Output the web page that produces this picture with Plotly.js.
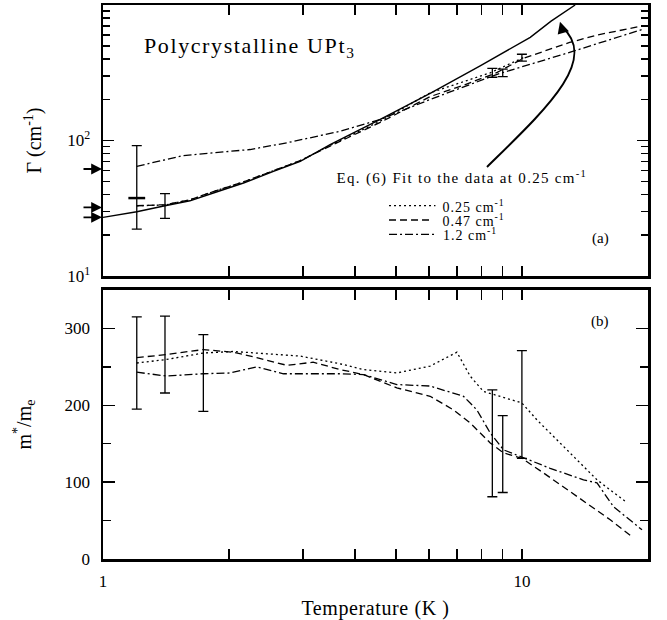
<!DOCTYPE html>
<html>
<head>
<meta charset="utf-8">
<script src="https://cdn.plot.ly/plotly-3.0.1.min.js"></script>
<style>
  html, body { margin: 0; padding: 0; background: #fff; }
  #chart { width: 667px; height: 620px; }
</style>
</head>
<body>
<div id="chart"></div>
<script>
// ---- (a) scattering rate Γ(T), cm^-1 ----
const T_fit  = [1.0, 1.204, 1.406, 1.613, 1.834, 2.165, 2.552, 2.957, 3.485, 4.59, 6.04, 7.95, 10.47, 11.74, 13.4];
const G_fit  = [27.1, 29.8, 33.0, 35.9, 41.0, 48.6, 59.2, 70.3, 93.3, 143, 223, 355, 577, 760, 1000];

const T_a025 = [1.204, 1.406, 1.613, 1.834, 2.165, 2.552, 2.957, 3.485, 4.59, 6.04, 7.24, 8.4, 10.1];
const G_a025 = [33.0, 33.4, 36.5, 42.0, 49.5, 60.0, 71.0, 92.0, 139, 225, 272, 316, 410];

const T_a047 = [1.204, 1.406, 1.613, 1.834, 2.165, 2.552, 2.957, 3.485, 4.59, 6.04, 7.24, 8.73, 10.1, 13.0, 15.1, 19.5];
const G_a047 = [33.0, 33.6, 36.5, 42.0, 49.5, 60.0, 71.0, 91.0, 136, 211, 255, 318, 405, 529, 600, 703];

const T_a12  = [1.204, 1.42, 1.555, 1.834, 2.245, 2.749, 3.68, 4.59, 6.04, 8.73, 13.0, 19.5];
const G_a12  = [64.5, 72.2, 77.4, 81.1, 85.8, 96.2, 117, 143, 201, 308, 447, 664];

// error bars in (a): lower / upper ends
const errT_a  = [1.204, 1.406, 8.5, 9.0, 10.0];
const errLo_a = [22.2, 26.6, 293, 296, 385];
const errHi_a = [91.8, 40.5, 341, 336, 433];
const capT_a  = [1.204];
const capG_a  = [37.6];

// zero-temperature values marked by arrows on the Γ axis
const arrowG = [61.6, 32.1, 27.1];

// ---- (b) effective mass m*/m_e ----
const T_b025 = [1.204, 1.419, 1.736, 2.047, 2.460, 2.954, 3.681, 4.184, 5.028, 6.039, 6.996, 7.523, 8.096, 10.0, 10.86, 12.57, 15.11, 17.65];
const M_b025 = [255, 259.6, 268, 270, 267, 264, 254, 246.5, 242, 251, 269, 238, 218, 203, 181, 146.5, 103, 75];

const T_b047 = [1.204, 1.419, 1.736, 2.047, 2.328, 2.747, 3.173, 3.681, 4.184, 5.028, 6.039, 6.866, 7.523, 8.403, 9.04, 10.0, 11.26, 13.53, 16.25, 18.31];
const M_b047 = [262, 266, 272.5, 269, 262, 252, 256, 246.5, 240, 222.6, 211.7, 194, 177, 151, 138, 131, 112, 81, 51, 29];

const T_b12  = [1.204, 1.419, 1.736, 2.011, 2.328, 2.696, 3.681, 4.184, 5.028, 6.039, 7.254, 7.807, 8.403, 9.04, 10.0, 11.68, 14.03, 15.11, 16.55, 19.35];
const M_b12  = [243, 238, 241, 242, 250, 241, 241, 240, 227, 225, 211.7, 194, 164, 142, 132.6, 118, 103, 99, 68, 38];

const errT_b  = [1.204, 1.406, 1.736, 8.5, 9.0, 10.0];
const errLo_b = [195, 216, 192, 81, 86.5, 131];
const errHi_b = [315, 316, 292, 220, 186.5, 271];

// ---- ticks and labels ----
const xTicks    = [1, 2, 3, 4, 5, 6, 7, 8, 9, 10, 20];
const xTickText = ['1', '', '', '', '', '', '', '', '', '10', ''];
const gTicks    = [10, 100, 1000];
const gTickText = ['10<sup>1</sup>', '10<sup>2</sup>', ''];
const gMinor    = [20, 30, 40, 50, 60, 70, 80, 90, 200, 300, 400, 500, 600, 700, 800, 900];
const mTicks    = [0, 100, 200, 300];
const mMinor    = [50, 150, 250];
const seriesNames = ['0.25 cm<sup>-1</sup>', '0.47 cm<sup>-1</sup>', '1.2 cm<sup>-1</sup>'];

const FONT = 'Liberation Serif';
const DOT = '2px,3px', DASH = '7px,4px', DASHDOT = '8px,3px,2px,3px';
const styles = [DOT, DASH, DASHDOT];
const LW = 1.3;

function line(x, y, dash, xa, ya, w) {
  return { x, y, xaxis: xa, yaxis: ya, type: 'scatter', mode: 'lines',
           line: { color: 'black', width: w || LW, dash: dash }, showlegend: false, hoverinfo: 'skip' };
}
function errBars(xs, lo, hi, xa, ya, isLog, w) {
  const mid = xs.map((_, i) => isLog ? Math.sqrt(lo[i] * hi[i]) : (lo[i] + hi[i]) / 2);
  return { x: xs, y: mid, xaxis: xa, yaxis: ya, type: 'scatter', mode: 'markers',
           marker: { color: 'rgba(0,0,0,0)', size: 1 }, showlegend: false, hoverinfo: 'skip',
           error_y: { type: 'data', symmetric: false,
                      array: hi.map((h, i) => h - mid[i]),
                      arrayminus: lo.map((l, i) => mid[i] - l),
                      color: 'black', thickness: 1.3, width: w } };
}

const data = [
  // panel (a)
  line(T_fit, G_fit, 'solid', 'x2', 'y2', 1.4),
  line(T_a025, G_a025, DOT, 'x2', 'y2'),
  line(T_a047, G_a047, DASH, 'x2', 'y2'),
  line(T_a12, G_a12, DASHDOT, 'x2', 'y2'),
  errBars(errT_a, errLo_a, errHi_a, 'x2', 'y2', true, 5),
  { x: capT_a, y: capG_a, xaxis: 'x2', yaxis: 'y2', type: 'scatter', mode: 'markers',
    marker: { symbol: 'line-ew', size: 12, line: { color: 'black', width: 2.5 } },
    showlegend: false, hoverinfo: 'skip' },
  // panel (b)
  line(T_b025, M_b025, DOT, 'x', 'y'),
  line(T_b047, M_b047, DASH, 'x', 'y'),
  line(T_b12, M_b12, DASHDOT, 'x', 'y'),
  errBars(errT_b, errLo_b, errHi_b, 'x', 'y', false, 5)
];

const frame = { showline: true, linewidth: 2.5, linecolor: 'black', mirror: 'ticks',
                ticks: 'inside', tickcolor: 'black', tickwidth: 1.5,
                showgrid: false, zeroline: false,
                tickfont: { family: FONT, size: 17, color: 'black' } };

const xLog = Object.assign({}, frame, {
  type: 'log', range: [0, Math.log10(20)], tickmode: 'array',
  tickvals: xTicks, ticktext: xTickText, ticklen: 10
});

// legend rows (paper y) and their letter spacing
const legendY = [0.6378, 0.6119, 0.5860];
const LEG_SP = 1.0, EQ_SP = 1.3, TITLE_SP = 1.6;

const layout = {
  width: 667, height: 620,
  margin: { l: 103, r: 19, t: 5, b: 61 },
  paper_bgcolor: 'white', plot_bgcolor: 'white',
  font: { family: FONT, color: 'black' },
  showlegend: false,
  xaxis: Object.assign({}, xLog, { anchor: 'y', ticklabelstandoff: 5,
    title: { text: 'Temperature (K )', font: { family: FONT, size: 20 }, standoff: 12 } }),
  xaxis2: Object.assign({}, xLog, { anchor: 'y2', showticklabels: false }),
  yaxis: Object.assign({}, frame, {
    domain: [0, 0.4856], anchor: 'x', range: [0, 350], tickmode: 'array',
    tickvals: mTicks, ticklen: 12, ticklabelstandoff: 7,
    minor: { tickmode: 'array', tickvals: mMinor, ticks: 'inside', ticklen: 8, tickwidth: 1.5, tickcolor: 'black' },
    title: { text: 'm<sup>*</sup>/m<sub>e</sub>', font: { family: FONT, size: 20 }, standoff: 28 }
  }),
  yaxis2: Object.assign({}, frame, {
    type: 'log', domain: [0.5108, 1], anchor: 'x2', range: [1, 3], tickmode: 'array',
    tickvals: gTicks, ticktext: gTickText, ticklen: 11, ticklabelstandoff: 7,
    minor: { tickmode: 'array', tickvals: gMinor, ticks: 'inside', ticklen: 7, tickwidth: 1.5, tickcolor: 'black' },
    title: { text: 'Γ (cm<sup>-1</sup>)', font: { family: FONT, size: 20 }, standoff: 20 }
  }),
  shapes: [
    // curved pointer from the fit label to the fit curve
    { type: 'path', xref: 'paper', yref: 'paper',
      path: 'M 0.7046 0.7076 C 0.8110 0.8105, 0.9119 0.9007, 0.8422 0.9603',
      line: { color: 'black', width: 2 } }
  ].concat(styles.map((d, i) => ({
    // legend line samples
    type: 'line', xref: 'paper', yref: 'paper', x0: 0.5248, x1: i === 1 ? 0.6030 : 0.6100,
    y0: legendY[i], y1: legendY[i], line: { color: 'black', width: LW, dash: d }
  }))),
  annotations: [
    { xref: 'paper', yref: 'paper', x: 0.071, y: 0.9247, xanchor: 'left', yanchor: 'middle',
      xshift: 16, text: 'Polycrystalline UPt<sub>3</sub>', showarrow: false,
      font: { family: FONT, size: 22, color: 'black' } },
    { xref: 'paper', yref: 'paper', x: 0.420, y: 0.6895, xanchor: 'left', yanchor: 'middle',
      xshift: 26, text: 'Eq. (6) Fit to the data at 0.25 cm<sup>-1</sup>', showarrow: false,
      font: { family: FONT, size: 15, color: 'black' } },
    { xref: 'paper', yref: 'paper', x: 0.912, y: 0.5794, xanchor: 'center', yanchor: 'middle',
      text: '(a)', showarrow: false, font: { family: FONT, size: 15, color: 'black' } },
    { xref: 'paper', yref: 'paper', x: 0.912, y: 0.4283, xanchor: 'center', yanchor: 'middle',
      text: '(b)', showarrow: false, font: { family: FONT, size: 15, color: 'black' } },
    // arrowhead of the curved pointer
    { xref: 'paper', yref: 'paper', x: 0.8385, y: 0.9699, ax: 3, ay: 10, text: '',
      showarrow: true, arrowhead: 2, arrowsize: 1.3, arrowwidth: 1.8, arrowcolor: 'black', standoff: 0 }
  ].concat(seriesNames.map((s, i) => ({
    xref: 'paper', yref: 'paper', x: 0.6183, y: legendY[i], xanchor: 'left', yanchor: 'middle',
    xshift: 5, text: s, showarrow: false, font: { family: FONT, size: 14, color: 'black' }
  }))).concat(arrowG.map(g => ({
    xref: 'x2', yref: 'y2', x: 0, y: Math.log10(g), ax: -21, ay: 0, text: '',
    showarrow: true, arrowhead: 2, arrowsize: 1.2, arrowwidth: 1.8, arrowcolor: 'black', standoff: 1
  })))
};

Plotly.newPlot('chart', data, layout, { staticPlot: true, displayModeBar: false }).then(gd => {
  // spaced-out lettering, as typeset in the figure
  gd.querySelectorAll('.annotation-text').forEach(t => {
    const s = t.textContent;
    if (s.indexOf('Polycrystalline') === 0) t.style.letterSpacing = TITLE_SP + 'px';
    else if (s.indexOf('Eq.') === 0) t.style.letterSpacing = EQ_SP + 'px';
    else if (s.indexOf('cm') > 0) t.style.letterSpacing = LEG_SP + 'px';
  });
  const xt = gd.querySelector('.g-xtitle text');
  if (xt) xt.style.letterSpacing = '0.6px';
});
</script>
</body>
</html>
